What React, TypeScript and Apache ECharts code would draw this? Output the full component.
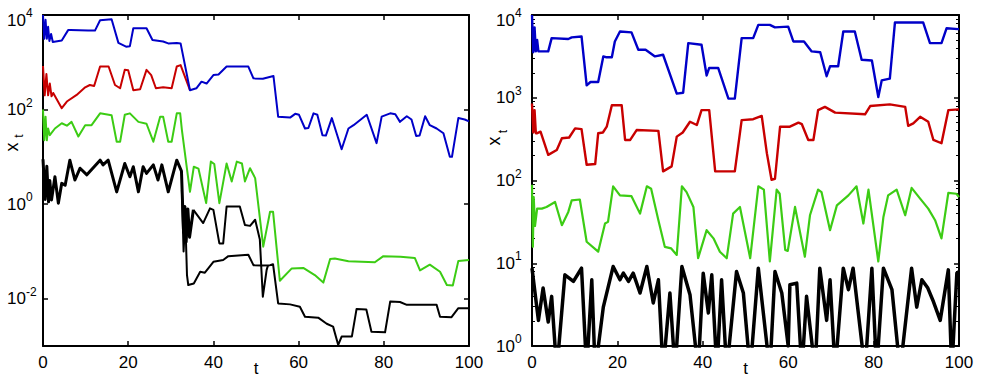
import React, { useEffect, useRef } from 'react';
import * as echarts from 'echarts';

const FONT = '"Liberation Sans", Arial, Helvetica, sans-serif';

// ---- tick values ----
const xTickMax = 100;
const leftYTicks = [0.01, 1, 100, 10000];
const rightYTicks = [1, 10, 100, 1000, 10000];

// ---- left panel series: [t, x_t] ----
const leftBlue: [number, number][] = [
  [0, 10000], [0.3, 3160], [0.6, 7940], [0.9, 3160], [1.2, 5620], [1.5, 2820], [1.9, 3980], [2.3, 2690],
  [4.4, 2880], [5.9, 4790], [6.5, 4790], [10.6, 4680], [12.2, 4680], [13.4, 7760], [16.1, 8130],
  [17.7, 2570], [19.5, 2140], [20.4, 2190], [21.2, 5250], [24.3, 5250], [25.7, 2950], [28.2, 2750],
  [29.4, 2510], [31.4, 2570], [32.3, 2510], [34.5, 257], [36.0, 282], [37.2, 389], [38.4, 355],
  [40.0, 537], [41.2, 550], [43.1, 813], [48.2, 813], [49.4, 457], [51.6, 447], [54.1, 513],
  [55.2, 70.8], [58.0, 67.6], [59.2, 81.3], [60.1, 77.6], [61.5, 39.8], [62.3, 40.7], [63.5, 83.2],
  [64.4, 77.6], [65.6, 28.8], [66.4, 28.2], [67.8, 66.1], [70.1, 14.5], [71.7, 39.8], [72.9, 46.8],
  [74.3, 58.9], [76.0, 77.6], [78.3, 19.5], [79.5, 70.8], [81.5, 83.2], [82.7, 79.4], [83.8, 55.0],
  [85.4, 72.4], [86.5, 61.7], [87.6, 27.5], [88.4, 28.2], [89.7, 72.4], [90.8, 46.8], [92.4, 39.8],
  [94.0, 31.6], [95.5, 10], [96.0, 10], [97.5, 66.1], [99, 61.7], [100, 56.2],
];
const leftRed: [number, number][] = [
  [0, 832], [0.4, 200], [0.8, 562], [1.2, 200], [1.6, 355], [2.0, 191], [2.4, 224], [4.4, 107],
  [5.6, 148], [7.9, 204], [9.9, 295], [11.0, 331], [12.0, 316], [13.4, 813], [15.4, 813], [16.9, 331],
  [18.1, 282], [19.2, 692], [20.0, 676], [21.2, 257], [22.8, 269], [24.3, 692], [25.4, 537],
  [26.5, 282], [28.2, 295], [30.2, 282], [31.4, 813], [32.3, 871], [34.5, 257],
];
const leftGreen: [number, number][] = [
  [0, 100], [0.3, 22.4], [0.6, 70.8], [0.9, 22.4], [1.2, 39.8], [1.6, 28.8], [2.8, 39.8], [4.4, 51.3],
  [5.6, 45.7], [6.7, 55.0], [8.3, 26.9], [9.9, 46.8], [11.4, 46.8], [13.4, 83.2], [16.1, 75.9],
  [17.3, 20.9], [18.1, 20.9], [19.2, 77.6], [20.4, 83.2], [22.4, 55.0], [24.3, 50.1], [25.9, 20.9],
  [27.5, 70.8], [28.2, 70.8], [29.4, 20.9], [30.2, 20.9], [31.4, 83.2], [32.2, 83.2], [32.6, 37.2],
  [34.5, 1.82], [35.4, 6.17], [36.5, 5.62], [38.3, 1.05], [39.4, 7.94], [40.2, 7.08], [41.4, 1.05],
  [43.1, 7.24], [44.3, 3.02], [45.5, 7.94], [46.7, 7.24], [47.4, 3.02], [48.6, 5.75], [49.8, 3.55],
  [51.7, 0.126], [53.3, 0.692], [54.0, 0.692], [55.6, 0.024], [58.4, 0.0437], [61.1, 0.0447],
  [63.8, 0.0316], [65.8, 0.0219], [67.4, 0.0692], [68.5, 0.0708], [71.7, 0.0617], [77.9, 0.0589],
  [79.9, 0.0794], [83.9, 0.0776], [87.3, 0.0724], [88.5, 0.0398], [90.8, 0.0525], [93.2, 0.0372],
  [94.8, 0.0195], [96.2, 0.0191], [97.5, 0.0631], [100, 0.0661],
];
const leftBlackEarly: [number, number][] = [
  [0, 8.91], [0.5, 1.26], [0.9, 6.31], [1.3, 1.12], [1.6, 3.16], [2.0, 1.23], [2.8, 3.80], [3.6, 1.05],
  [4.4, 2.75], [5.2, 2.51], [6.3, 8.51], [7.5, 3.24], [8.7, 5.75], [10.3, 4.17], [13.4, 8.51],
  [14.1, 6.76], [15.3, 8.51], [17.3, 1.82], [19.2, 7.24], [20.4, 3.80], [21.2, 6.17], [22.4, 1.82],
  [23.5, 6.17], [24.3, 4.47], [25.9, 6.76], [27.0, 3.24], [27.9, 6.76], [29.4, 1.82], [31.4, 8.51],
  [32.5, 5.01], [33.0, 0.251], [33.3, 0.891], [33.6, 0.158], [34.0, 0.794], [34.4, 0.2], [35.3, 0.759],
];
const leftBlackUpper: [number, number][] = [
  [35.3, 0.759], [37.6, 0.398], [39.2, 0.813], [40.0, 0.759], [41.4, 0.148], [42.3, 0.148],
  [43.1, 0.891], [46.2, 0.891], [47.4, 0.363], [48.6, 0.347], [49.8, 0.468], [50.9, 0.178],
  [51.6, 0.011], [52.5, 0.0407], [52.8, 0.0501],
];
const leftBlackLower: [number, number][] = [
  [32.6, 2.0], [33.0, 0.1], [33.4, 0.501], [33.8, 0.0316], [34.1, 0.0195], [35.4, 0.0209],
  [36.9, 0.0372], [38.0, 0.0355], [40.0, 0.0603], [42.3, 0.0661], [43.5, 0.0794], [48.2, 0.0851],
  [49.4, 0.0513], [51.3, 0.0501], [53.3, 0.0513], [54.0, 0.0537], [55.2, 0.00794], [58.0, 0.00759],
  [60.3, 0.00676], [61.5, 0.00417], [64.6, 0.00398], [66.6, 0.00295], [68.1, 0.00257],
  [69.3, 0.00105], [70.1, 0.00158], [72.5, 0.00158], [73.6, 0.00603], [75.9, 0.00589],
  [77.1, 0.002], [80.3, 0.00195], [81.5, 0.00871], [83.8, 0.00851], [85.4, 0.00741],
  [92.4, 0.00741], [93.2, 0.00417], [95.9, 0.00407], [97.5, 0.00631], [100, 0.00631],
];

// ---- right panel series ----
const rightBlue: [number, number][] = [
  [0, 10000], [0.3, 3550], [0.6, 7080], [0.9, 3630], [1.2, 5010], [1.5, 3630], [3.8, 3630],
  [4.6, 5250], [8.5, 5130], [9.3, 5370], [11.6, 5500], [12.8, 1410], [13.7, 1550], [15.5, 1550],
  [16.7, 3160], [17.3, 3090], [18.7, 3090], [19.4, 4790], [20.6, 6310], [23.3, 6170], [24.9, 3800],
  [26.6, 3800], [28.8, 3160], [30.7, 3310], [33.9, 1120], [35.4, 1150], [36.6, 4570], [39.7, 4370],
  [40.9, 1860], [41.5, 2290], [43.6, 2290], [46.0, 977], [47.5, 977], [49.1, 5250], [51.8, 5250],
  [53.0, 7590], [55.7, 7590], [56.9, 7080], [60.0, 7240], [61.2, 4790], [63.7, 4790], [65.5, 3630],
  [67.5, 3550], [69.0, 1820], [69.8, 2400], [71.7, 2400], [72.9, 6310], [75.6, 6310], [77.2, 2880],
  [79.6, 2820], [81.1, 1020], [81.9, 1620], [83.8, 1700], [85.0, 8130], [91.6, 8130], [93.2, 4570],
  [95.9, 4570], [97.1, 6920], [99.8, 6760], [100, 6760],
];
const rightRed: [number, number][] = [
  [0, 851], [0.3, 380], [0.6, 708], [0.9, 372], [1.1, 372], [2.0, 389], [3.8, 204], [5.8, 234],
  [7.0, 324], [8.7, 331], [10.1, 427], [11.6, 417], [12.8, 155], [14.8, 158], [15.5, 372],
  [16.6, 380], [17.5, 447], [18.7, 813], [21.0, 813], [21.8, 309], [23.0, 309], [24.5, 407],
  [29.6, 398], [30.7, 129], [32.7, 148], [33.9, 339], [35.3, 380], [37.0, 513], [38.6, 468],
  [39.7, 708], [41.5, 708], [42.9, 129], [47.5, 129], [49.1, 537], [51.8, 550], [53.8, 603],
  [55.0, 214], [56.1, 102], [56.9, 105], [58.1, 447], [60.4, 447], [62.4, 501], [63.2, 479],
  [64.7, 309], [65.9, 309], [67.0, 708], [68.6, 776], [71.0, 661], [78.0, 631], [79.2, 794],
  [83.8, 832], [87.4, 776], [88.1, 457], [89.3, 490], [90.9, 589], [92.8, 513], [94.0, 309],
  [95.9, 282], [97.5, 708], [100, 724],
];
const rightGreen: [number, number][] = [
  [0, 89.1], [0.2, 15.8], [0.4, 63.1], [0.7, 28.2], [1.2, 45.7], [2.3, 45.7], [3.4, 47.9],
  [5.4, 55.0], [7.0, 28.8], [8.5, 41.7], [9.3, 57.5], [11.2, 58.9], [12.8, 18.2], [15.5, 13.8],
  [17.1, 30.2], [17.8, 31.6], [19.0, 85.1], [20.6, 66.1], [23.3, 64.6], [25.3, 39.8], [26.9, 85.1],
  [27.9, 79.4], [29.6, 33.1], [31.1, 15.8], [32.6, 15.1], [33.9, 12.6], [35.1, 85.1], [36.2, 72.4],
  [37.8, 47.9], [38.9, 11.5], [40.9, 25.1], [42.5, 20.0], [44.0, 13.8], [45.6, 11.5], [47.1, 39.8],
  [48.7, 47.9], [51.1, 11.5], [53.0, 85.1], [54.3, 77.6], [55.7, 10.5], [57.3, 77.6], [58.0, 69.2],
  [59.3, 14.5], [59.9, 14.1], [61.6, 47.9], [63.9, 12.0], [65.1, 38.0], [67.0, 77.6], [67.8, 72.4],
  [69.8, 25.1], [71.4, 50.1], [74.1, 66.1], [76.0, 85.1], [77.6, 30.2], [78.8, 77.6], [81.1, 10.5],
  [82.3, 36.3], [83.4, 66.1], [85.4, 77.6], [87.4, 38.0], [88.9, 81.3], [90.9, 60.3], [92.8, 45.7],
  [94.4, 33.1], [95.9, 20.0], [97.5, 70.8], [99.4, 69.2], [100, 63.1],
];
const rightBlack: [number, number][] = [
  [0, 8.71], [1.5, 2.04], [2.6, 5.01], [3.8, 1.95], [4.6, 3.98], [5.8, 0.5], [7.7, 7.24], [9.7, 6.03],
  [11.6, 8.71], [12.8, 0.5], [14.0, 6.31], [14.8, 0.5], [16.7, 2.95], [19.0, 9.12], [20.6, 6.31],
  [21.4, 7.59], [22.6, 6.03], [23.7, 7.59], [25.3, 4.37], [26.9, 9.12], [28.4, 3.31], [29.6, 6.31],
  [30.7, 0.5], [32.3, 4.37], [33.5, 0.5], [35.1, 9.12], [37.0, 4.17], [38.9, 0.5], [40.1, 7.59],
  [41.3, 2.51], [42.1, 7.24], [43.3, 0.5], [44.4, 6.31], [45.6, 0.5], [47.9, 7.94], [49.5, 4.37],
  [51.1, 0.5], [53.0, 8.71], [55.7, 0.5], [56.9, 7.94], [58.5, 4.37], [60.0, 1.0], [60.4, 5.50],
  [62.0, 5.75], [63.2, 0.5], [64.3, 3.98], [66.3, 0.5], [67.4, 8.71], [69.0, 2.04], [69.8, 6.31],
  [71.0, 0.5], [72.9, 8.71], [74.1, 4.79], [75.2, 8.71], [78.0, 0.5], [79.6, 8.71], [80.7, 0.5],
  [82.3, 8.71], [84.3, 4.79], [86.2, 0.5], [88.9, 8.71], [90.1, 2.95], [91.3, 6.31], [92.7, 5.01],
  [93.9, 3.55], [95.6, 2.04], [97.5, 8.32], [98.3, 0.5], [99.5, 7.59], [100, 7.94],
];

const BLUE = '#0000c8';
const RED = '#c80000';
const GREEN = '#3ccc14';
const BLACK = '#000000';

const richStyles = {
  b: { fontSize: 17, fontFamily: FONT, color: '#000' },
  e: { fontSize: 12, fontFamily: FONT, color: '#000', padding: [0, 0, 14, 0] },
  bt: { fontSize: 17, fontFamily: FONT, color: '#000', padding: [10, 0, 0, 0] },
  et: { fontSize: 12, fontFamily: FONT, color: '#000', padding: [0, 0, 4, 0] },
};

function expLabel(v: number) {
  const e = Math.round(Math.log10(v));
  if (e === 4) return `{bt|10}{et|${e}}`;
  return `{b|10}{e|${e}}`;
}

function mkX(grid: number, bottom: boolean) {
  return {
    type: 'value',
    gridIndex: grid,
    position: bottom ? 'bottom' : 'top',
    min: 0,
    max: xTickMax,
    interval: 20,
    axisLine: { show: true, onZero: false, lineStyle: { color: '#000', width: 2 } },
    axisTick: { show: true, inside: true, length: 5, lineStyle: { color: '#000', width: 1.5 } },
    axisLabel: { show: bottom, fontSize: 17, fontFamily: FONT, color: '#000', margin: 8 },
    splitLine: { show: false },
    name: bottom ? 't' : '',
    nameLocation: 'middle',
    nameGap: 14,
    nameMoveOverlap: false,
    nameTextStyle: { fontSize: 17, fontFamily: FONT, color: '#000' },
  };
}

function mkY(grid: number, side: 'left' | 'right', min: number, ticks: number[], minor: boolean) {
  return {
    type: 'log',
    logBase: 10,
    gridIndex: grid,
    position: side,
    min,
    max: 10000,
    axisLine: { show: true, onZero: false, lineStyle: { color: '#000', width: 2 } },
    axisTick: { show: true, inside: true, length: 5, customValues: ticks, lineStyle: { color: '#000', width: 1.5 } },
    minorTick: { show: minor, splitNumber: 9, length: 3, lineStyle: { color: '#000', width: 1 } },
    axisLabel: {
      show: side === 'left',
      customValues: ticks,
      formatter: expLabel,
      align: 'left',
      margin: 36,
      rich: richStyles,
    },
    splitLine: { show: false },
    minorSplitLine: { show: false },
  };
}

function line(data: [number, number][], color: string, width: number, xi: number, yi: number, z = 2) {
  return {
    type: 'line',
    data,
    xAxisIndex: xi,
    yAxisIndex: yi,
    showSymbol: false,
    symbol: 'none',
    clip: true,
    silent: true,
    z,
    lineStyle: { color, width, join: 'round' },
    itemStyle: { color },
  };
}

function yName(xc: number, yc: number, tx: number, ty: number) {
  return [
    {
      type: 'text', x: xc, y: yc, rotation: Math.PI / 2,
      style: { text: 'x', fontSize: 18, fontFamily: FONT, fill: '#000', align: 'center', verticalAlign: 'middle' },
    },
    {
      type: 'text', x: tx, y: ty, rotation: Math.PI / 2,
      style: { text: 't', fontSize: 12, fontFamily: FONT, fill: '#000', align: 'center', verticalAlign: 'middle' },
    },
  ];
}

export default function App() {
  const ref = useRef<HTMLDivElement>(null);
  useEffect(() => {
    if (!ref.current) return;
    const chart = echarts.init(ref.current, undefined, { renderer: 'svg' });
    const option: any = {
      animation: false,
      backgroundColor: '#ffffff',
      grid: [
        { left: 43, top: 15, width: 426, height: 331, containLabel: false, outerBoundsMode: 'none' },
        { left: 532, top: 15, width: 427, height: 331, containLabel: false, outerBoundsMode: 'none' },
      ],
      xAxis: [mkX(0, true), mkX(0, false), mkX(1, true), mkX(1, false)],
      yAxis: [
        mkY(0, 'left', 0.001, leftYTicks, false),
        mkY(0, 'right', 0.001, leftYTicks, false),
        mkY(1, 'left', 1, rightYTicks, true),
        mkY(1, 'right', 1, rightYTicks, true),
      ],
      series: [
        line(leftBlackEarly, BLACK, 3, 0, 0),
        line(leftBlackUpper, BLACK, 2, 0, 0),
        line(leftBlackLower, BLACK, 2, 0, 0),
        line(leftGreen, GREEN, 2, 0, 0, 3),
        line(leftRed, RED, 2, 0, 0, 4),
        line(leftBlue, BLUE, 2, 0, 0, 5),
        line(rightBlack, BLACK, 3.5, 2, 2),
        line(rightGreen, GREEN, 2.2, 2, 2, 3),
        line(rightRed, RED, 2.4, 2, 2, 4),
        line(rightBlue, BLUE, 2.4, 2, 2, 5),
      ],
      graphic: [...yName(12, 147, 18.5, 136), ...yName(494, 141, 502.5, 131.5)],
    };
    chart.setOption(option);
    return () => chart.dispose();
  }, []);
  return (
    <div
      ref={ref}
      style={{ position: 'fixed', left: 0, top: 0, width: 983, height: 380, background: '#fff' }}
    />
  );
}
